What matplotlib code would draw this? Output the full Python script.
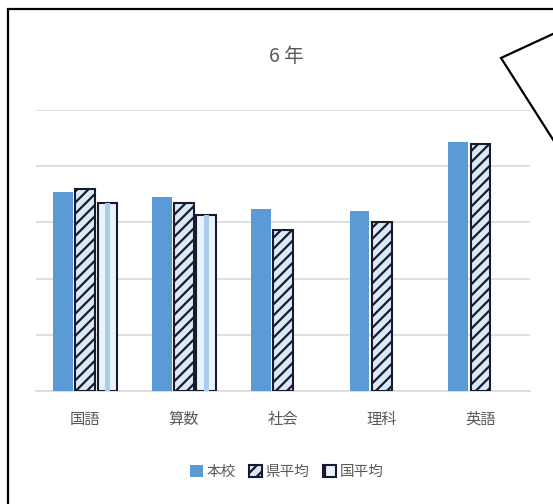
import numpy as np
import matplotlib
matplotlib.use("Agg")
import matplotlib.pyplot as plt
from matplotlib.patches import Rectangle, Polygon, Patch

plt.rcParams['font.family'] = ['Noto Sans CJK JP', 'DejaVu Sans']
plt.rcParams['hatch.linewidth'] = 1.6

# data
subjects = ["国語", "算数", "社会", "理科", "英語"]
series = ["本校", "県平均", "国平均"]
school = [70.9, 68.9, 64.8, 64.2, 88.7]
pref = [71.9, 66.8, 57.3, 60.2, 87.9]
nation = [66.8, 62.6, np.nan, np.nan, np.nan]

blue = "#5b9bd5"
light = "#d8eaf8"
pale = "#e8f3fc"
gray = "#595959"
dark = "#1a1a2e"

fig = plt.figure(figsize=(5.53, 5.04), dpi=100)
ax = fig.add_axes([0.065, 0.224, 0.893, 0.558])

x = np.arange(len(subjects))
w = 0.2
step = 0.225

ax.bar(x - step, school, w, color=blue, zorder=3)
ax.bar(x, pref, w, facecolor=light, edgecolor=dark, hatch="///",
       linewidth=1.5, zorder=3)
ax.bar(x + step, nation, w, facecolor=pale, edgecolor=dark,
       linewidth=1.5, zorder=3)
# thin vertical stripe inside the national bars
nat = np.array(nation)
ok = ~np.isnan(nat)
ax.bar((x + step)[ok], nat[ok], w * 0.25, color="#a9cdef", linewidth=0, zorder=4)

ax.set_ylim(0, 100)
ax.set_xlim(-0.5, len(subjects) - 0.5)
ax.set_yticks(np.arange(0, 101, 20))
ax.yaxis.grid(True, color="#d9d9d9", lw=1.2, zorder=0)
ax.tick_params(axis="y", left=False, labelleft=False)
ax.tick_params(axis="x", length=0, colors=gray, labelsize=11, pad=14)
ax.set_xticks(x)
ax.set_xticklabels(subjects)
for s in ["top", "right", "left"]:
    ax.spines[s].set_visible(False)
ax.spines["bottom"].set_color("#d9d9d9")
ax.spines["bottom"].set_linewidth(1.2)

fig.text(0.518, 0.887, "6 年", ha="center", va="center", fontsize=14, color=gray)

handles = [
    Patch(facecolor=blue),
    Patch(facecolor=light, edgecolor=dark, hatch="///", linewidth=1.5),
    Patch(facecolor=pale, edgecolor=dark, hatch="|", linewidth=1.5),
]
fig.legend(handles, series, loc="center", bbox_to_anchor=(0.518, 0.063), ncol=3,
           frameon=False, fontsize=10.5, handlelength=0.9, handleheight=0.9,
           handletextpad=0.25, columnspacing=0.9, labelcolor=gray)

# outer frame and callout shape
fig.add_artist(Rectangle((0.0145, -0.1), 1.2, 1.082, transform=fig.transFigure,
                         fill=False, edgecolor="black", lw=1.6, clip_on=False))
fig.add_artist(Polygon([(1.05, 0.958), (0.906, 0.885), (1.05, 0.637)],
                       closed=True, transform=fig.transFigure, facecolor="white",
                       edgecolor="black", lw=1.6, zorder=10))

fig.savefig("out.png", dpi=100, facecolor="white")
